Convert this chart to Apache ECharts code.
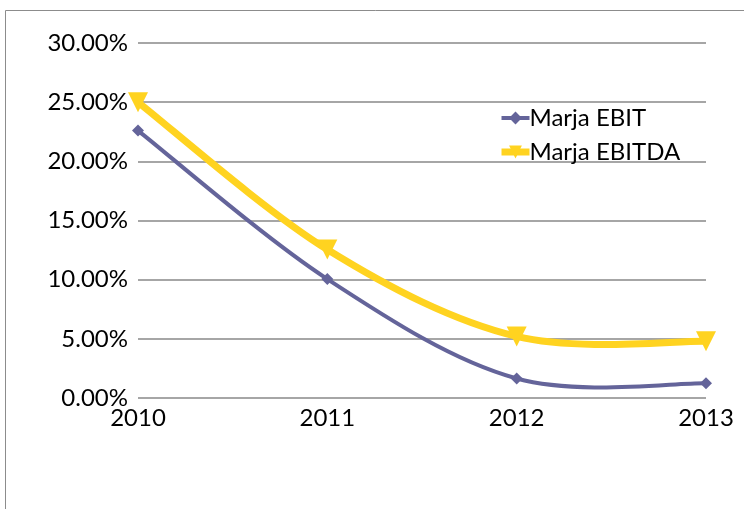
<!DOCTYPE html>
<html><head><meta charset="utf-8">
<script src="https://cdn.jsdelivr.net/npm/echarts@6/dist/echarts.min.js"></script>
<style>html,body{margin:0;padding:0;background:#fff}#c{width:744px;height:509px}</style>
</head><body><div id="c"></div>
<script>
const categories = ['2010', '2011', '2012', '2013'];
const ebit = [22.6, 10.05, 1.65, 1.25];
const ebitda = [25.0, 12.55, 5.2, 4.8];
const seriesNames = ['Marja EBIT', 'Marja EBITDA'];
const colors = ['#64649a', '#ffd320'];
const widths = [4, 7];

const chart = echarts.init(document.getElementById('c'));
const font = 'Lato, "Open Sans", sans-serif';

// Smooth curve (Catmull-Rom style, like a spreadsheet smoothed line), drawn through the axes' coordinates
function smoothCurve(values, color, width) {
  return function (params, api) {
    const pts = values.map((v, i) => api.coord([i, v]));
    const children = [];
    for (let i = 0; i < pts.length - 1; i++) {
      const p0 = pts[Math.max(i - 1, 0)], p1 = pts[i], p2 = pts[i + 1], p3 = pts[Math.min(i + 2, pts.length - 1)];
      children.push({
        type: 'bezierCurve',
        shape: {
          x1: p1[0], y1: p1[1], x2: p2[0], y2: p2[1],
          cpx1: p1[0] + (p2[0] - p0[0]) / 6, cpy1: p1[1] + (p2[1] - p0[1]) / 6,
          cpx2: p2[0] - (p3[0] - p1[0]) / 6, cpy2: p2[1] - (p3[1] - p1[1]) / 6
        },
        style: { stroke: color, lineWidth: width, fill: null, lineCap: 'round', lineJoin: 'round' }
      });
    }
    return { type: 'group', children };
  };
}

chart.setOption({
  animation: false,
  backgroundColor: '#fff',
  graphic: [{
    type: 'rect', shape: { x: 5.5, y: 10.5, width: 760, height: 520 },
    style: { fill: 'none', stroke: '#8c8c8c', lineWidth: 1 }, z: -1
  }],
  grid: { left: 138, right: 38, top: 43, bottom: 111 },
  legend: {
    left: 493, top: 101, orient: 'vertical', itemGap: 10,
    itemWidth: 28, itemHeight: 16,
    textStyle: { fontFamily: font, fontSize: 24, color: '#000', padding: [0, 0, 0, -5] },
    data: [
      { name: seriesNames[0], lineStyle: { width: widths[0], opacity: 1 } },
      { name: seriesNames[1], lineStyle: { width: widths[1], opacity: 1 } }
    ]
  },
  xAxis: {
    type: 'category', data: categories, boundaryGap: false,
    axisLine: { show: false }, axisTick: { show: false },
    axisLabel: { fontFamily: font, fontSize: 24, color: '#000', margin: 8 }
  },
  yAxis: {
    type: 'value', min: 0, max: 30, interval: 5,
    axisLine: { show: false }, axisTick: { show: false },
    splitLine: { lineStyle: { color: '#a6a6a6', width: 2 } },
    axisLabel: { fontFamily: font, fontSize: 24, color: '#000', margin: 10,
      formatter: v => v.toFixed(2) + '%' }
  },
  series: [
    {
      type: 'custom', name: 'curve0', data: [0], silent: true, clip: false,
      renderItem: smoothCurve(ebit, colors[0], widths[0])
    },
    {
      type: 'custom', name: 'curve1', data: [0], silent: true, clip: false,
      renderItem: smoothCurve(ebitda, colors[1], widths[1])
    },
    {
      name: seriesNames[0], type: 'line', data: ebit,
      symbol: 'diamond', symbolSize: 12,
      lineStyle: { color: colors[0], width: widths[0], opacity: 0 },
      itemStyle: { color: colors[0] }
    },
    {
      name: seriesNames[1], type: 'line', data: ebitda,
      symbol: 'triangle', symbolRotate: 180, symbolSize: 20,
      lineStyle: { color: colors[1], width: widths[1], opacity: 0 },
      itemStyle: { color: colors[1] }
    }
  ]
});
</script></body></html>
